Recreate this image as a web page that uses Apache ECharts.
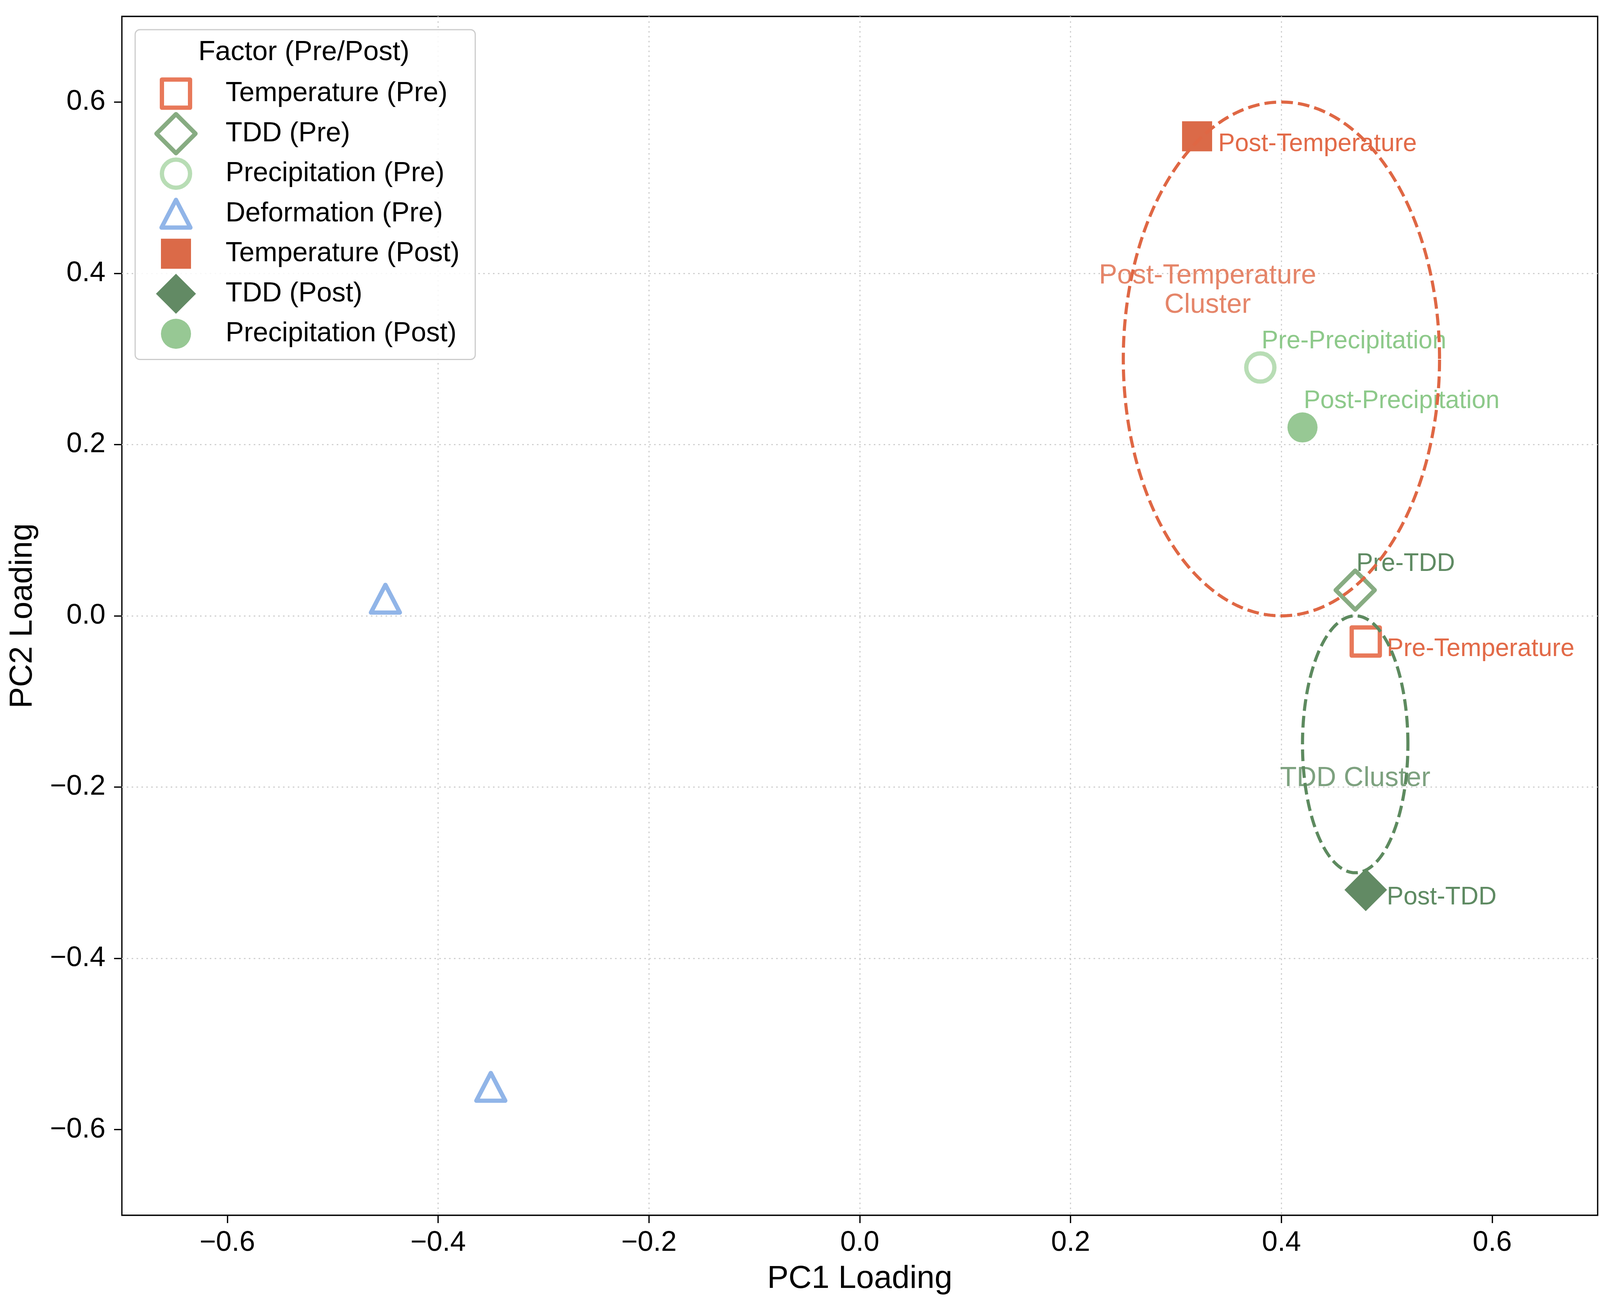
<!DOCTYPE html>
<html>
<head>
<meta charset="utf-8">
<script src="https://cdn.jsdelivr.net/npm/echarts@6/dist/echarts.min.js"></script>
<style>
html,body{margin:0;padding:0;background:#fff;}
#c{width:4128px;height:3352px;}
</style>
</head>
<body>
<div id="c"></div>
<script>
// ---------------- data ----------------
const factorNames = ['Temperature (Pre)', 'TDD (Pre)', 'Precipitation (Pre)', 'Deformation (Pre)',
                     'Temperature (Post)', 'TDD (Post)', 'Precipitation (Post)'];
const temperaturePre    = [[0.48, -0.03]];
const tddPre            = [[0.47, 0.03]];
const precipitationPre  = [[0.38, 0.29]];
const deformationPre    = [[-0.45, 0.02], [-0.35, -0.55]];
const temperaturePost   = [[0.32, 0.56]];
const tddPost           = [[0.48, -0.32]];
const precipitationPost = [[0.42, 0.22]];
const pointLabels = ['Pre-Temperature', 'Pre-TDD', 'Pre-Precipitation', '',
                     'Post-Temperature', 'Post-TDD', 'Post-Precipitation'];

const clusterNames = ['Post-Temperature\nCluster', 'TDD Cluster'];
const clusterCenters = [[0.40, 0.30], [0.47, -0.15]];
const clusterWidths = [0.30, 0.10];
const clusterHeights = [0.60, 0.30];
const clusterLabelPoints = [[0.33, 0.38], [0.47, -0.19]];

const xTicks = [-0.6, -0.4, -0.2, 0.0, 0.2, 0.4, 0.6];
const yTicks = [-0.6, -0.4, -0.2, 0.0, 0.2, 0.4, 0.6];
const xTitle = 'PC1 Loading';
const yTitle = 'PC2 Loading';
const legendTitle = 'Factor (Pre/Post)';

// ---------------- styles ----------------
const FONT = '"Liberation Sans", Arial, Helvetica, sans-serif';
const factorData = [temperaturePre, tddPre, precipitationPre, deformationPre,
                    temperaturePost, tddPost, precipitationPost];
const markerStyles = [
  {symbol: 'rect',     size: [72, 72],   fill: null,      stroke: '#E8795A', labelColor: '#E26A48', place: 'right'},
  {symbol: 'diamond',  size: [100, 100], fill: null,      stroke: '#87AC82', labelColor: '#5E8A62', place: 'above'},
  {symbol: 'circle',   size: [72, 72],   fill: null,      stroke: '#B8DDB5', labelColor: '#8DC98A', place: 'above'},
  {symbol: 'triangle', size: [74, 71],   fill: null,      stroke: '#91B5E8', labelColor: '#91B5E8', place: 'none'},
  {symbol: 'rect',     size: [77, 77],   fill: '#DB6A48', stroke: null,      labelColor: '#E26A48', place: 'right'},
  {symbol: 'diamond',  size: [109, 109], fill: '#628A64', stroke: null,      labelColor: '#5E8A62', place: 'right'},
  {symbol: 'circle',   size: [77, 77],   fill: '#97C894', stroke: null,      labelColor: '#8DC98A', place: 'above'}
];
const clusterColors = ['#DF6744', '#5D8A5F'];
const STROKE_W = 11;

// legend icon paths inside a LW x LH box (marker centred at LCX,LCY)
const LW = 209, LH = 102.5, LCX = 87, LCY = 51.25;
function iconPath(type, w, h) {
  const box = 'M0,0M' + LW + ',' + LH;
  const cx = LCX, cy = LCY;
  let p;
  if (type === 'rect') {
    p = 'M' + (cx - w / 2) + ',' + (cy - h / 2) + 'L' + (cx + w / 2) + ',' + (cy - h / 2) +
        'L' + (cx + w / 2) + ',' + (cy + h / 2) + 'L' + (cx - w / 2) + ',' + (cy + h / 2) + 'Z';
  } else if (type === 'diamond') {
    const hh = Math.min(h, LH) / 2, ww = Math.min(w, LH) / 2;
    p = 'M' + cx + ',' + (cy - hh) + 'L' + (cx + ww) + ',' + cy + 'L' + cx + ',' + (cy + hh) +
        'L' + (cx - ww) + ',' + cy + 'Z';
  } else if (type === 'circle') {
    const r = w / 2;
    p = 'M' + (cx + r) + ',' + cy + 'A' + r + ',' + r + ',0,1,1,' + (cx - r) + ',' + cy +
        'A' + r + ',' + r + ',0,1,1,' + (cx + r) + ',' + cy + 'Z';
  } else {
    p = 'M' + cx + ',' + (cy - h / 2) + 'L' + (cx + w / 2) + ',' + (cy + h / 2) +
        'L' + (cx - w / 2) + ',' + (cy + h / 2) + 'Z';
  }
  return 'path://' + box + p;
}

function fmt(v) {
  const a = Math.abs(v).toFixed(1);
  return (v < -1e-9 ? '\u2212' : '') + a;
}

// ---------------- series ----------------
const scatterSeries = factorData.map(function (data, i) {
  const st = markerStyles[i];
  const s = {
    type: 'scatter',
    name: factorNames[i],
    data: data,
    symbol: st.symbol,
    symbolSize: st.size,
    z: 3,
    itemStyle: st.fill
      ? {color: st.fill, borderWidth: 0, opacity: 1}
      : {color: 'rgba(0,0,0,0)', borderColor: st.stroke, borderWidth: STROKE_W, borderJoin: 'round', opacity: 1},
    emphasis: {disabled: true},
    label: {show: false}
  };
  if (pointLabels[i]) {
    s.label = {
      show: true,
      formatter: pointLabels[i],
      position: 'inside',
      align: 'left',
      verticalAlign: 'middle',
      offset: st.place === 'right' ? [54, 20] : [3, -67],
      color: st.labelColor,
      fontSize: 64,
      fontFamily: FONT,
      textBorderWidth: 0
    };
  }
  return s;
});

const clusterLabelSeries = {
  type: 'scatter',
  name: 'cluster-labels',
  data: clusterLabelPoints.map(function (p, i) {
    return {value: p, name: clusterNames[i], label: {color: clusterColors[i]}};
  }),
  symbolSize: 1,
  itemStyle: {color: 'rgba(0,0,0,0)'},
  z: 4,
  emphasis: {disabled: true},
  label: {
    show: true, position: 'inside', formatter: '{b}', align: 'center', verticalAlign: 'middle',
    fontSize: 70, lineHeight: 75, fontFamily: FONT, textBorderWidth: 0
  }
};

const ellipseSeries = {
  type: 'custom',
  name: 'clusters',
  z: 6,
  silent: true,
  data: clusterCenters.map(function (c, i) {
    return [c[0], c[1], clusterWidths[i], clusterHeights[i], i];
  }),
  encode: {x: 0, y: 1},
  renderItem: function (params, api) {
    const cx = api.value(0), cy = api.value(1), w = api.value(2), h = api.value(3), idx = api.value(4);
    const pts = [];
    const n = 360;
    for (let k = 0; k <= n; k++) {
      const t = 2 * Math.PI * k / n;
      pts.push(api.coord([cx + w / 2 * Math.cos(t), cy + h / 2 * Math.sin(t)]));
    }
    return {
      type: 'polyline',
      shape: {points: pts},
      style: {stroke: clusterColors[idx], lineWidth: 8, lineDash: [30, 13], fill: null}
    };
  }
};

// ---------------- chart ----------------
const chart = echarts.init(document.getElementById('c'), null, {renderer: 'canvas', width: 4128, height: 3352});

const axisCommon = {
  type: 'value',
  min: -0.7,
  max: 0.7,
  splitNumber: 7,
  axisLine: {show: false, onZero: false},
  splitLine: {show: true, showMinLine: false, showMaxLine: false,
              lineStyle: {color: '#cfcfcf', width: 3, type: [4, 8.5]}},
  nameLocation: 'middle',
  nameTextStyle: {fontSize: 82, color: '#000', fontFamily: FONT}
};

chart.setOption({
  animation: false,
  backgroundColor: '#ffffff',
  textStyle: {fontFamily: FONT},
  grid: {left: 312, right: 38, top: 42, bottom: 240, show: true, borderColor: '#000', borderWidth: 3.3,
         backgroundColor: 'rgba(0,0,0,0)', containLabel: false},
  xAxis: Object.assign({}, axisCommon, {
    name: xTitle,
    nameGap: 122,
    axisTick: {show: true, inside: false, length: 20, lineStyle: {color: '#000', width: 3.3}, customValues: xTicks},
    axisLabel: {show: true, margin: 35, fontSize: 72, color: '#000', fontFamily: FONT, customValues: xTicks, formatter: fmt}
  }),
  yAxis: Object.assign({}, axisCommon, {
    name: yTitle,
    nameGap: 213,
    nameRotate: 90,
    axisTick: {show: true, inside: false, length: 20, lineStyle: {color: '#000', width: 3.3}, customValues: yTicks},
    axisLabel: {show: true, margin: 42, fontSize: 72, color: '#000', fontFamily: FONT, customValues: yTicks, formatter: fmt}
  }),
  legend: {
    orient: 'vertical',
    left: 346,
    top: 76,
    itemWidth: LW,
    itemHeight: LH,
    itemGap: -STROKE_W,
    padding: [107, 40, 9, 12],
    backgroundColor: 'rgba(255,255,255,0.85)',
    borderColor: '#cccccc',
    borderWidth: 3,
    borderRadius: 12,
    selectedMode: false,
    z: 10,
    textStyle: {fontSize: 70, color: '#000', fontFamily: FONT, lineHeight: 80},
    data: factorNames.map(function (n, i) {
      const st = markerStyles[i];
      return {
        name: n,
        icon: iconPath(st.symbol, st.size[0], st.size[1]),
        // filled icons get an invisible stroke so every legend row has the same height
        itemStyle: st.fill
          ? {color: st.fill, borderColor: 'rgba(255,255,255,0)', borderWidth: STROKE_W, opacity: 1}
          : {color: 'rgba(0,0,0,0)', borderColor: st.stroke, borderWidth: STROKE_W, borderJoin: 'round', opacity: 1}
      };
    })
  },
  graphic: [{
    type: 'text',
    x: 778,
    y: 134,
    z: 100,
    silent: true,
    style: {text: legendTitle, fontSize: 71, fontFamily: FONT, fill: '#000', align: 'center', verticalAlign: 'middle'}
  }],
  series: scatterSeries.concat([clusterLabelSeries, ellipseSeries])
});
</script>
</body>
</html>
